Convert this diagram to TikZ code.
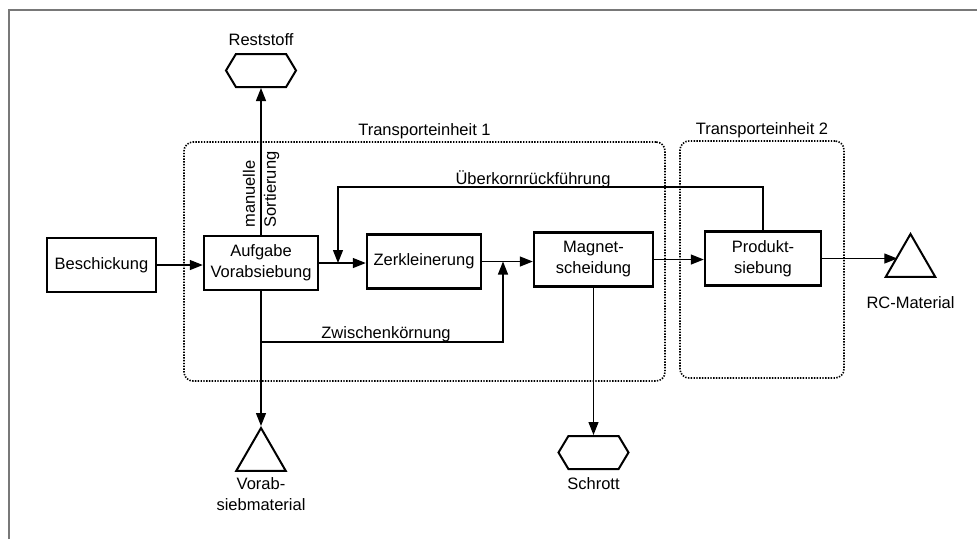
\documentclass[tikz,border=0pt]{standalone}
\usepackage{fontspec}
\setmainfont{Liberation Sans}
\usetikzlibrary{arrows.meta,positioning,shapes.geometric,shapes.symbols}
\definecolor{framegray}{RGB}{120, 120, 120}

\begin{document}
\begin{tikzpicture}[x=1pt, y=-1pt,
        font=\fontsize{16.5}{21}\selectfont,
        >={Triangle[length=13pt,width=10pt]},
        flow/.style={draw, line width=1.3pt},
        stepbox/.style={draw, line width=2.4pt, minimum height=54pt, inner sep=2pt, align=center},
        sink/.style={draw, line width=2pt, regular polygon, regular polygon sides=3, minimum size=57pt, inner sep=0pt},
        waste/.style={draw, line width=2pt, signal, signal to=west and east, signal pointer angle=118,
                      minimum width=70pt, minimum height=33pt, inner sep=0pt},
        unitbox/.style={draw, line width=1.6pt, dash pattern=on 1.4pt off 1.4pt, rounded corners=9pt},
        lbl/.style={inner sep=1pt, align=center}]
            \useasboundingbox (0,0) rectangle (977,539);
            \draw[framegray, line width=1.6pt] (9,539) -- (9,10) -- (977,10);

            \node[unitbox, minimum width=481pt, minimum height=239pt] (te1) at (424.5,261.5) {};
            \node[unitbox, minimum width=164pt, minimum height=237pt] (te2) at (762,259.5) {};
            \node[lbl, anchor=south] (te1label) at ([yshift=1pt]te1.north) {Transporteinheit 1};
            \node[lbl, anchor=south] (te2label) at ([yshift=1pt]te2.north) {Transporteinheit 2};

            \node[stepbox, minimum width=109pt] (besch) at (101.5,265)   {Beschickung};
            \node[stepbox, minimum width=114pt] (auf)   at (261,263)     {Aufgabe\\Vorabsiebung};
            \node[stepbox, minimum width=114pt] (zerk)  at (424,261.5)   {Zerkleinerung};
            \node[stepbox, minimum width=119pt] (mag)   at (593.5,259.5) {Magnet-\\scheidung};
            \node[stepbox, minimum width=116pt] (prod)  at (763,258.5)   {Produkt-\\siebung};

            \node[sink]  (rc)      at (910.5,262.5) {};
            \node[sink]  (vorab)   at (261,456.5)   {};
            \node[waste] (rest)    at (261,70.5)    {};
            \node[waste] (schrott) at (593.5,452.5) {};
            \node[lbl, below=18pt of rc.south]     (rclabel)      {RC-Material};
            \node[lbl, below=5pt of vorab.south]   (vorablabel)   {Vorab-\\siebmaterial};
            \node[lbl, above=6pt of rest]          (restlabel)    {Reststoff};
            \node[lbl, below=6pt of schrott]       (schrottlabel) {Schrott};

            \coordinate (merge1) at (338,263);
            \coordinate (merge2) at (503,261.5);
            \coordinate (ukr)    at (338,187);
            \coordinate (zwk)    at (261,342);

            \draw[flow, ->] (besch.east) -- (besch.east -| auf.west);
            \draw[flow, ->] (auf.east)   -- (auf.east -| zerk.west);
            \draw[flow, ->] (zerk.east)  -- (zerk.east -| mag.west);
            \draw[flow, ->] (mag.east)   -- (mag.east -| prod.west);
            \draw[flow, ->] (prod.east)  -- (prod.east -| rc.side 1);
            \draw[flow, ->] (auf.north)  -- (rest.south);
            \draw[flow, ->] (auf.south)  -- (vorab.corner 1);
            \draw[flow, ->] (mag.south)  -- (schrott.north);
            \draw[flow, ->] (prod.north) |- (ukr) -- (merge1);
            \draw[flow, ->] (zwk) -| (merge2);

            \node[lbl, rotate=90, anchor=west, align=left] (sortlabel) at ([yshift=6pt]auf.north) {manuelle\\Sortierung};
            \node[lbl, anchor=south] (ukrlabel) at (533,189) {Überkornrückführung};
            \node[lbl, anchor=south] (zwklabel) at (386,343) {Zwischenkörnung};
        \end{tikzpicture}
\end{document}
